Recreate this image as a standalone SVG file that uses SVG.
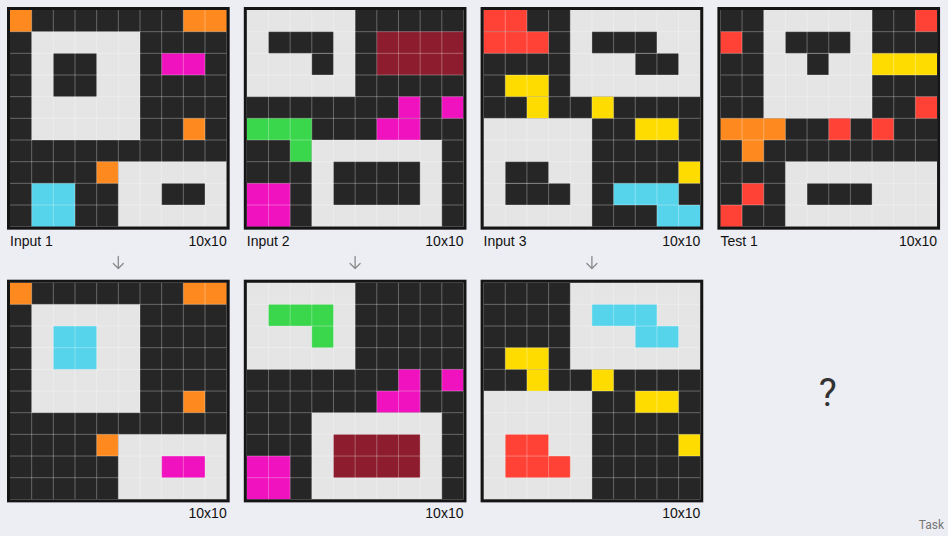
<svg xmlns="http://www.w3.org/2000/svg" xmlns:xlink="http://www.w3.org/1999/xlink" width="948" height="536" viewBox="0 0 948 536">
<style>
.k{fill:#262626}.w{fill:#e5e5e5}.o{fill:#fe8a1f}.m{fill:#f012be}.c{fill:#56d4ec}
.r{fill:#ff4136}.y{fill:#ffdc00}.g{fill:#3ad64c}.d{fill:#8c1c2e}
.gl{fill:none;stroke:#ffffff;stroke-opacity:0.3;stroke-width:1}
.fr{fill:none;stroke:#151515;stroke-width:3}
.lb{font-family:"Liberation Sans",Arial,sans-serif;font-size:14px;fill:#111}
.ar{fill:none;stroke:#8a8a8a;stroke-width:1.3;stroke-linecap:round;stroke-linejoin:round}
</style>
<defs>
<path id="lines" class="gl" vector-effect="non-scaling-stroke" d="M1 0V10M2 0V10M3 0V10M4 0V10M5 0V10M6 0V10M7 0V10M8 0V10M9 0V10M0 1H10M0 2H10M0 3H10M0 4H10M0 5H10M0 6H10M0 7H10M0 8H10M0 9H10"/>
<rect id="frame" class="fr" x="-1.5" y="-1.5" width="219.67" height="219.67"/>
</defs>
<rect width="948" height="536" fill="#ededf4"/>

<g id="input1" transform="translate(10,10)">
<g transform="scale(21.667)">
<rect class="k" width="10" height="10"/>
<rect class="o" x="0" y="0" width="1" height="1"/><rect class="o" x="8" y="0" width="2" height="1"/><rect class="o" x="8" y="5" width="1" height="1"/><rect class="o" x="4" y="7" width="1" height="1"/>
<rect class="m" x="7" y="2" width="2" height="1"/>
<rect class="c" x="1" y="8" width="2" height="2"/>
<rect class="w" x="1" y="1" width="5" height="5"/><rect class="k" x="2" y="2" width="2" height="2"/>
<rect class="w" x="5" y="7" width="5" height="3"/><rect class="k" x="7" y="8" width="2" height="1"/>
<use xlink:href="#lines"/>
</g>
<use xlink:href="#frame"/>
<text class="lb" x="0" y="236">Input 1</text>
<text class="lb" x="216.7" y="236" text-anchor="end">10x10</text>
</g>

<g id="input2" transform="translate(246.8,10)">
<g transform="scale(21.667)">
<rect class="k" width="10" height="10"/>
<rect class="w" x="0" y="0" width="5" height="4"/><rect class="k" x="1" y="1" width="3" height="1"/><rect class="k" x="3" y="2" width="1" height="1"/>
<rect class="d" x="6" y="1" width="4" height="2"/>
<rect class="m" x="7" y="4" width="1" height="1"/><rect class="m" x="9" y="4" width="1" height="1"/><rect class="m" x="6" y="5" width="2" height="1"/><rect class="m" x="0" y="8" width="2" height="2"/>
<rect class="g" x="0" y="5" width="3" height="1"/><rect class="g" x="2" y="6" width="1" height="1"/>
<rect class="w" x="3" y="6" width="6" height="4"/><rect class="k" x="4" y="7" width="4" height="2"/>
<use xlink:href="#lines"/>
</g>
<use xlink:href="#frame"/>
<text class="lb" x="0" y="236">Input 2</text>
<text class="lb" x="216.7" y="236" text-anchor="end">10x10</text>
</g>

<g id="input3" transform="translate(483.6,10)">
<g transform="scale(21.667)">
<rect class="k" width="10" height="10"/>
<rect class="r" x="0" y="0" width="2" height="1"/><rect class="r" x="0" y="1" width="3" height="1"/>
<rect class="w" x="4" y="0" width="6" height="4"/><rect class="k" x="5" y="1" width="3" height="1"/><rect class="k" x="7" y="2" width="2" height="1"/>
<rect class="y" x="1" y="3" width="2" height="1"/><rect class="y" x="2" y="4" width="1" height="1"/><rect class="y" x="5" y="4" width="1" height="1"/><rect class="y" x="7" y="5" width="2" height="1"/><rect class="y" x="9" y="7" width="1" height="1"/>
<rect class="w" x="0" y="5" width="5" height="5"/><rect class="k" x="1" y="7" width="2" height="1"/><rect class="k" x="1" y="8" width="3" height="1"/>
<rect class="c" x="6" y="8" width="3" height="1"/><rect class="c" x="8" y="9" width="2" height="1"/>
<use xlink:href="#lines"/>
</g>
<use xlink:href="#frame"/>
<text class="lb" x="0" y="236">Input 3</text>
<text class="lb" x="216.7" y="236" text-anchor="end">10x10</text>
</g>

<g id="test1" transform="translate(720.4,10)">
<g transform="scale(21.667)">
<rect class="k" width="10" height="10"/>
<rect class="w" x="2" y="0" width="5" height="5"/><rect class="k" x="3" y="1" width="3" height="1"/><rect class="k" x="4" y="2" width="1" height="1"/>
<rect class="r" x="9" y="0" width="1" height="1"/><rect class="r" x="0" y="1" width="1" height="1"/><rect class="r" x="9" y="4" width="1" height="1"/><rect class="r" x="5" y="5" width="1" height="1"/><rect class="r" x="7" y="5" width="1" height="1"/><rect class="r" x="1" y="8" width="1" height="1"/><rect class="r" x="0" y="9" width="1" height="1"/>
<rect class="y" x="7" y="2" width="3" height="1"/>
<rect class="o" x="0" y="5" width="3" height="1"/><rect class="o" x="1" y="6" width="1" height="1"/>
<rect class="w" x="3" y="7" width="7" height="3"/><rect class="k" x="4" y="8" width="3" height="1"/>
<use xlink:href="#lines"/>
</g>
<use xlink:href="#frame"/>
<text class="lb" x="0" y="236">Test 1</text>
<text class="lb" x="216.7" y="236" text-anchor="end">10x10</text>
</g>

<g id="output1" transform="translate(10,282.7)">
<g transform="scale(21.667)">
<rect class="k" width="10" height="10"/>
<rect class="o" x="0" y="0" width="1" height="1"/><rect class="o" x="8" y="0" width="2" height="1"/><rect class="o" x="8" y="5" width="1" height="1"/><rect class="o" x="4" y="7" width="1" height="1"/>
<rect class="w" x="1" y="1" width="5" height="5"/><rect class="c" x="2" y="2" width="2" height="2"/>
<rect class="w" x="5" y="7" width="5" height="3"/><rect class="m" x="7" y="8" width="2" height="1"/>
<use xlink:href="#lines"/>
</g>
<use xlink:href="#frame"/>
<text class="lb" x="216.7" y="235.5" text-anchor="end">10x10</text>
</g>

<g id="output2" transform="translate(246.8,282.7)">
<g transform="scale(21.667)">
<rect class="k" width="10" height="10"/>
<rect class="w" x="0" y="0" width="5" height="4"/><rect class="g" x="1" y="1" width="3" height="1"/><rect class="g" x="3" y="2" width="1" height="1"/>
<rect class="m" x="7" y="4" width="1" height="1"/><rect class="m" x="9" y="4" width="1" height="1"/><rect class="m" x="6" y="5" width="2" height="1"/><rect class="m" x="0" y="8" width="2" height="2"/>
<rect class="w" x="3" y="6" width="6" height="4"/><rect class="d" x="4" y="7" width="4" height="2"/>
<use xlink:href="#lines"/>
</g>
<use xlink:href="#frame"/>
<text class="lb" x="216.7" y="235.5" text-anchor="end">10x10</text>
</g>

<g id="output3" transform="translate(483.6,282.7)">
<g transform="scale(21.667)">
<rect class="k" width="10" height="10"/>
<rect class="w" x="4" y="0" width="6" height="4"/><rect class="c" x="5" y="1" width="3" height="1"/><rect class="c" x="7" y="2" width="2" height="1"/>
<rect class="y" x="1" y="3" width="2" height="1"/><rect class="y" x="2" y="4" width="1" height="1"/><rect class="y" x="5" y="4" width="1" height="1"/><rect class="y" x="7" y="5" width="2" height="1"/><rect class="y" x="9" y="7" width="1" height="1"/>
<rect class="w" x="0" y="5" width="5" height="5"/><rect class="r" x="1" y="7" width="2" height="1"/><rect class="r" x="1" y="8" width="3" height="1"/>
<use xlink:href="#lines"/>
</g>
<use xlink:href="#frame"/>
<text class="lb" x="216.7" y="235.5" text-anchor="end">10x10</text>
</g>

<g id="unknown">
<text x="827.7" y="406" text-anchor="middle" font-family="Roboto,'Liberation Sans',sans-serif" font-size="38" fill="#333">?</text>
</g>

<g id="connectors">
<path class="ar" d="M118.3 256.5V268.5M113.3 263.5L118.3 268.5L123.3 263.5"/>
<path class="ar" d="M355.1 256.5V268.5M350.1 263.5L355.1 268.5L360.1 263.5"/>
<path class="ar" d="M591.9 256.5V268.5M586.9 263.5L591.9 268.5L596.9 263.5"/>
</g>

<text x="944" y="529" text-anchor="end" font-family="Roboto,'Liberation Sans',sans-serif" font-size="12" fill="#777">Task</text>
</svg>
